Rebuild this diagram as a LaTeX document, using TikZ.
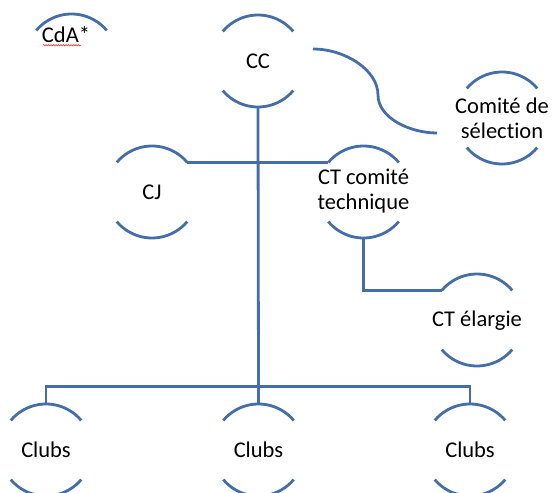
\documentclass[tikz,border=0pt]{standalone}
\usepackage{fontspec}
\setmainfont{Carlito}[Ligatures=NoCommon]
\usetikzlibrary{calc,decorations.pathmorphing}
\definecolor{lnblue}{RGB}{68,110,170}
\tikzset{
  ln/.style={draw=lnblue,line width=2.8pt},
  unit/.style={inner sep=0pt,align=center,font=\fontsize{22.5}{25}\selectfont},
  arcs/.pic={
    \draw[ln] (40:46pt) arc[start angle=40,end angle=140,radius=46pt];
    \draw[ln] (220:46pt) arc[start angle=220,end angle=320,radius=46pt];
  },
  toparc/.pic={
    \draw[ln] (40:46pt) arc[start angle=40,end angle=140,radius=46pt];
  }
}
\begin{document}
\begin{tikzpicture}[x=1pt,y=1pt]
\useasboundingbox (0,0) rectangle (552,493);
% nodes
\node[unit] (cda) at (66,458) {CdA*};
\node[unit] (cc) at (258,432) {CC};
\node[unit] (com) at (502,375) {Comité de\\sélection};
\node[unit] (cj) at (152,301) {CJ};
\node[unit] (ct) at (363.5,302) {CT comité\\technique};
\node[unit] (cte) at (477,172) {CT élargie};
\node[unit] (cl1) at (46,43) {Clubs};
\node[unit] (cl2) at (258.5,43) {Clubs};
\node[unit] (cl3) at (470,43) {Clubs};
% arcs
\coordinate (cdac) at (71.5,433);
\pic at (cdac) {toparc};
\coordinate (ccc) at (258,432);
\pic at (ccc) {arcs};
\coordinate (comc) at (502,375);
\pic at (comc) {arcs};
\coordinate (cjc) at (152,301);
\pic at (cjc) {arcs};
\coordinate (ctc) at (363.5,301);
\pic at (ctc) {arcs};
\coordinate (ctec) at (477,173);
\pic at (ctec) {arcs};
\coordinate (cl1c) at (46,43);
\pic at (cl1c) {arcs};
\coordinate (cl2c) at (258.5,43);
\pic at (cl2c) {arcs};
\coordinate (cl3c) at (470,43);
\pic at (cl3c) {arcs};
% spell-check squiggle
\draw[red!80,line width=0.6pt,decorate,decoration={snake,amplitude=0.7pt,segment length=2.5pt}]
  ($(cda.south west)+(1,-2)$) -- ($(cda.south east)+(-9,-2)$);
% connectors
\coordinate (bus) at (258.5,106.4);
\draw[ln] ($(ccc)+(0,-46)$) -- (bus);
\draw[ln] ($(cl1c)+(0,46)$) |- (bus) -| ($(cl3c)+(0,46)$);
\draw[ln] ($(cl2c)+(0,46)$) -- (bus);
\draw[ln] ($(cjc)+(40:46pt)$) -- ($(ctc)+(140:46pt)$);
\draw[ln] ($(ctc)+(0,-46)$) |- ($(ctec)+(140:46pt)$);
\coordinate (s0) at (313,444);
\coordinate (sm) at (378,398);
\coordinate (s1) at (437,360);
\draw[ln] (s0) .. controls (345,444) and (378,423) .. (sm)
               .. controls (378,375) and (410,360) .. (s1);
\end{tikzpicture}
\end{document}
